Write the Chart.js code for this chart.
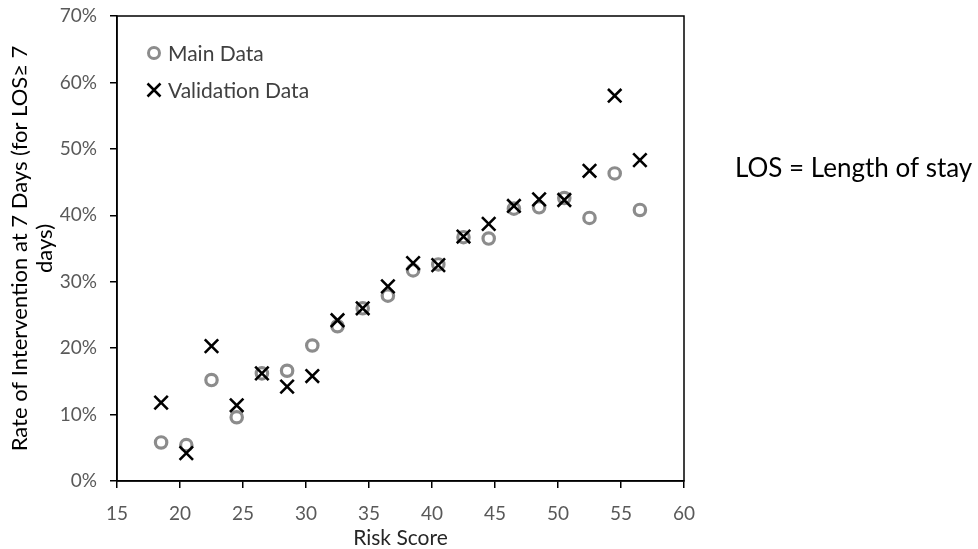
<!DOCTYPE html>
<html>
<head>
<meta charset="utf-8">
<script src="https://cdn.jsdelivr.net/npm/chart.js@4.4.1/dist/chart.umd.min.js"></script>
<style>
  html, body { margin: 0; padding: 0; background: #fff; }
  #wrap { position: relative; width: 978px; height: 549px; }
</style>
</head>
<body>
<div id="wrap"><canvas id="riskChart"></canvas></div>
<script>
// risk score bins (centre of each 2-point bin)
const riskScores = [18.5, 20.5, 22.5, 24.5, 26.5, 28.5, 30.5, 32.5, 34.5, 36.5,
  38.5, 40.5, 42.5, 44.5, 46.5, 48.5, 50.5, 52.5, 54.5, 56.5];

// rate of intervention at 7 days, in %
const mainData = [5.8, 5.4, 15.2, 9.6, 16.2, 16.6, 20.4, 23.3, 26.0, 27.9,
  31.7, 32.6, 36.7, 36.5, 41.0, 41.2, 42.6, 39.6, 46.3, 40.8];
const validationData = [11.8, 4.2, 20.3, 11.4, 16.2, 14.2, 15.8, 24.2, 26.0, 29.3,
  32.8, 32.5, 36.8, 38.7, 41.4, 42.4, 42.3, 46.7, 58.0, 48.3];

const xTicks = [15, 20, 25, 30, 35, 40, 45, 50, 55, 60];
const yTicks = [0, 10, 20, 30, 40, 50, 60, 70];

const seriesNames = ["Main Data", "Validation Data"];
const yTitle = ["Rate of Intervention at 7 Days (for LOS\u2265 7", "days)"];
const xTitle = "Risk Score";
const noteText = "LOS = Length of stay";

const FONT = "Lato, 'Open Sans', sans-serif";
const GREY = "#8c8c8c";

const toPoints = (ys) => riskScores.map((x, i) => ({ x: x, y: ys[i] }));

// legend drawn inside the plot, plus the box and the side note
const extras = {
  id: "extras",
  afterDraw(chart) {
    const { ctx, chartArea } = chart;
    ctx.save();

    // frame round the plot area
    ctx.strokeStyle = "#000";
    ctx.lineWidth = 1.5;
    ctx.strokeRect(chartArea.left, chartArea.top,
      chartArea.right - chartArea.left, chartArea.bottom - chartArea.top);

    // legend
    const lx = chartArea.left + 37;
    let ly = chartArea.top + 37;
    ctx.font = "21px " + FONT;
    ctx.textBaseline = "middle";
    ctx.fillStyle = "#404040";
    seriesNames.forEach((name, i) => {
      if (i === 0) {
        ctx.strokeStyle = GREY;
        ctx.lineWidth = 3;
        ctx.beginPath();
        ctx.arc(lx, ly, 5.5, 0, Math.PI * 2);
        ctx.stroke();
      } else {
        ctx.strokeStyle = "#000";
        ctx.lineWidth = 2.5;
        ctx.beginPath();
        ctx.moveTo(lx - 6.5, ly - 6.5);
        ctx.lineTo(lx + 6.5, ly + 6.5);
        ctx.moveTo(lx + 6.5, ly - 6.5);
        ctx.lineTo(lx - 6.5, ly + 6.5);
        ctx.stroke();
      }
      ctx.fillText(name, lx + 14, ly + 1);
      ly += 37;
    });

    // note on the right
    ctx.font = "26px " + FONT;
    ctx.fillStyle = "#000";
    ctx.fillText(noteText, chartArea.right + 51, 169);

    ctx.restore();
  },
};

const ctx = document.getElementById("riskChart").getContext("2d");

new Chart(ctx, {
  type: "scatter",
  data: {
    datasets: [
      {
        label: seriesNames[0],
        data: toPoints(mainData),
        pointStyle: "circle",
        pointRadius: 5.7,
        pointBorderWidth: 3.2,
        borderColor: GREY,
        backgroundColor: "rgba(0,0,0,0)",
        order: 2,
      },
      {
        label: seriesNames[1],
        data: toPoints(validationData),
        pointStyle: "crossRot",
        pointRadius: 9.5,
        pointBorderWidth: 2.6,
        borderColor: "#000",
        backgroundColor: "#000",
        order: 1,
      },
    ],
  },
  options: {
    responsive: true,
    maintainAspectRatio: false,
    animation: false,
    layout: { padding: { top: 16, right: 294, left: 0, bottom: 0 } },
    plugins: {
      legend: { display: false },
      tooltip: { enabled: false },
    },
    scales: {
      x: {
        type: "linear",
        min: xTicks[0],
        max: xTicks[xTicks.length - 1],
        afterBuildTicks: (scale) => { scale.ticks = xTicks.map((v) => ({ value: v })); },
        afterFit: (scale) => {
          scale.height = 68;
          scale.paddingLeft = 0;
          scale.paddingRight = 0;
        },
        grid: { drawOnChartArea: false, color: "#000", tickLength: 7, lineWidth: 1.5 },
        border: { color: "#000", width: 1.5 },
        ticks: { color: "#595959", font: { family: FONT, size: 19 }, padding: 14 },
        title: {
          display: true,
          text: xTitle,
          color: "#262626",
          font: { family: FONT, size: 21, lineHeight: 1 },
          padding: { top: 0, bottom: 0 },
        },
      },
      y: {
        type: "linear",
        min: yTicks[0],
        max: yTicks[yTicks.length - 1],
        afterBuildTicks: (scale) => { scale.ticks = yTicks.map((v) => ({ value: v })); },
        afterFit: (scale) => {
          scale.width = 117;
          scale.paddingTop = 0;
          scale.paddingBottom = 0;
        },
        grid: { drawOnChartArea: false, color: "#000", tickLength: 7, lineWidth: 1.5 },
        border: { color: "#000", width: 1.5 },
        ticks: {
          color: "#595959",
          font: { family: FONT, size: 19 },
          padding: 13,
          callback: (v) => v + "%",
        },
        title: {
          display: true,
          text: yTitle,
          color: "#000",
          font: { family: FONT, size: 22, lineHeight: 1.15 },
          padding: { top: 7, bottom: 0 },
        },
      },
    },
  },
  plugins: [extras],
});
</script>
</body>
</html>
